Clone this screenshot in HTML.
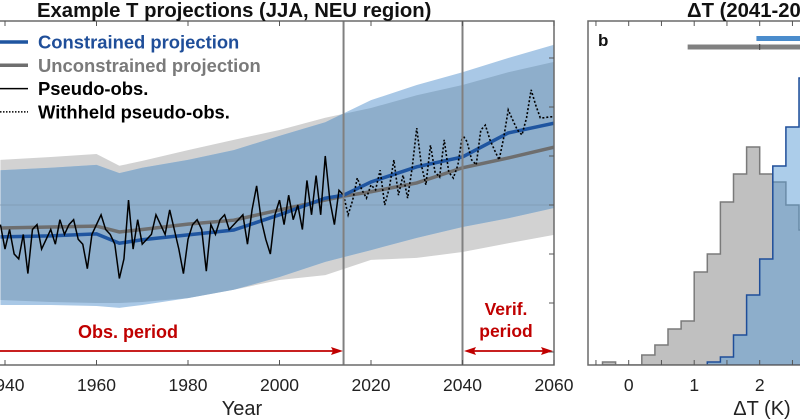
<!DOCTYPE html>
<html><head><meta charset="utf-8"><style>
body{margin:0;background:#fff;width:800px;height:419px;overflow:hidden}
svg{display:block;font-family:"Liberation Sans",Arial,sans-serif}
</style></head><body>
<svg id="chart" width="800" height="419" viewBox="0 0 800 419" xmlns="http://www.w3.org/2000/svg">
<defs><clipPath id="plotclip"><rect x="0" y="21" width="554" height="344"/></clipPath>
<clipPath id="histclip"><rect x="588" y="21" width="212" height="344"/></clipPath></defs>
<g id="panelA"></g>
<g id="panelB"></g>
</svg>
<script>
// ---- Panel A data ----
const bandYears = [1939,1950,1960,1965,1970,1980,1990,2000,2010,2020,2030,2040,2050,2060];
const uncUpper = [0.92,0.98,1.04,0.80,0.90,1.12,1.33,1.53,1.78,1.98,2.24,2.45,2.71,2.92];
const uncLower = [-1.94,-1.98,-2.00,-2.00,-1.98,-1.90,-1.73,-1.53,-1.43,-1.12,-1.08,-0.96,-0.78,-0.61];
const conUpper = [0.71,0.76,0.82,0.65,0.76,0.92,1.12,1.41,1.69,2.14,2.45,2.71,3.00,3.27];
const conLower = [-2.04,-2.04,-2.06,-2.10,-2.04,-1.90,-1.73,-1.47,-1.16,-0.92,-0.67,-0.45,-0.27,-0.06];
const meanYears = [1939,1950,1960,1965,1970,1980,1990,2000,2010,2014,2020,2030,2040,2050,2060];
const conMean = [-0.65,-0.63,-0.59,-0.78,-0.71,-0.61,-0.51,-0.20,0.14,0.20,0.47,0.78,0.98,1.47,1.67];
const uncMean = [-0.47,-0.45,-0.43,-0.55,-0.50,-0.39,-0.31,-0.10,0.10,0.18,0.27,0.45,0.76,0.96,1.18];
const obsStart = 1939;
const obsValues = [-0.4,-0.9,-0.5,-1.0,-1.1,-0.6,-1.4,-0.5,-0.4,-0.9,
 -0.7,-0.5,-0.8,-0.3,-0.6,-0.4,-0.3,-0.7,-0.8,-1.3,
 -0.6,-0.4,-0.2,-0.5,-0.6,-0.8,-1.5,-1.1,0.1,-0.9,
 -0.3,-0.8,-0.7,-0.6,-0.2,-0.4,-0.6,-0.1,-0.5,-0.9,
 -1.4,-0.7,-0.4,-0.3,-0.5,-1.35,-0.4,-0.6,-0.3,-0.2,
 -0.5,-0.4,-0.3,-0.2,-0.8,-0.1,0.39,-0.3,-0.7,-1.0,
 -0.2,0.1,-0.4,0.2,-0.3,0.0,-0.5,0.5,-0.2,0.6,
 -0.2,1.0,0.1,-0.4,0.3,0.2];
const heldStart = 2014;
const heldValues = [0.2,-0.2,0.1,0.55,0.31,0.14,0.41,0.31,0.71,0.0,
 0.35,0.92,0.2,0.61,0.14,0.76,1.57,0.82,0.41,1.22,
 0.67,0.57,1.33,0.67,0.55,0.82,1.43,1.29,0.92,0.82,
 1.53,1.63,1.33,1.12,0.92,1.37,1.94,1.73,1.53,1.43,
 1.78,2.35,2.04,1.78,1.78,1.80,1.80];
const xTicks = [1940,1960,1980,2000,2020,2040,2060];
const yTicks = [-3,-2,-1,0,1,2,3];
// ---- Panel B data ----
const binStart = -0.4, binWidth = 0.2;
const grayCounts = [0.3,0,0,1.0,2.0,3.6,4.4,9.3,11.1,16.3,19.1,21.8,19.1,18.3,16.0,13.5];
const blueStart = 1.2;
const blueCounts = [0.3,0.8,3.0,7.0,10.6,19.9,23.8,28.7];
const dtTicks = [-0.5,0,0.5,1,1.5,2,2.5];
const dtLabels = [0,1,2];
const blueRange = [1.95,3.4];
const grayRange = [0.9,3.8];
const grayMedian = 2.0;

const NS="http://www.w3.org/2000/svg";
function mk(parent,tag,attrs){const e=document.createElementNS(NS,tag);for(const k in attrs)e.setAttribute(k,attrs[k]);parent.appendChild(e);return e;}
const xA=y=>5+(y-1940)*4.575;
const yA=v=>205-v*49;
const A=document.getElementById('panelA');
const plot=mk(A,'g',{'clip-path':'url(#plotclip)'});
function bandPath(xs,up,lo){let d='';xs.forEach((x,i)=>{d+=(i?'L':'M')+xA(x)+','+yA(up[i]);});for(let i=xs.length-1;i>=0;i--)d+='L'+xA(xs[i])+','+yA(lo[i]);return d+'Z';}
const gb=mk(plot,'path',{d:bandPath(bandYears,uncUpper,uncLower),fill:'#d2d2d2'});


const cb=mk(plot,'path',{d:bandPath(bandYears,conUpper,conLower),fill:'#a9c8e6'});


const cp=mk(document.querySelector('defs'),'clipPath',{id:'gclip'});
mk(cp,'path',{d:bandPath(bandYears,uncUpper,uncLower)});
const ov=mk(plot,'path',{d:bandPath(bandYears,conUpper,conLower),fill:'#8eaecb','clip-path':'url(#gclip)'});


const zl=mk(plot,'line',{x1:0,x2:554,y1:yA(0),y2:yA(0),stroke:'#7d98b0','stroke-width':0.7});


function line(xs,vs){return xs.map((x,i)=>(i?'L':'M')+xA(x)+','+yA(vs[i])).join('');}
const um=mk(plot,'path',{d:line(meanYears,uncMean),fill:'none',stroke:'#6e6e6e','stroke-width':3.5});


const cm=mk(plot,'path',{d:line(meanYears,conMean),fill:'none',stroke:'#1f55a0','stroke-width':3.5});


const oy=obsValues.map((v,i)=>obsStart+i);
const ol=mk(plot,'path',{d:line(oy,obsValues),fill:'none',stroke:'#000','stroke-width':1.5});


const hy=heldValues.map((v,i)=>heldStart+i);
const hl=mk(plot,'path',{d:line(hy,heldValues),fill:'none',stroke:'#000','stroke-width':1.6,'stroke-dasharray':'2,2'});


[2014,2040].forEach(y=>{const v=mk(A,'line',{x1:xA(y),x2:xA(y),y1:21,y2:365,stroke:'#808080','stroke-width':2});

});
mk(A,'path',{d:'M0,21H554V365H0',fill:'none',stroke:'#6a6a6a','stroke-width':1.5});
function txt(p,x,y,s,o,name){const t=mk(p,'text',Object.assign({x:x,y:y},o));t.textContent=s;


return t;}
xTicks.forEach(t=>{const x=xA(t);
mk(A,'line',{x1:x,x2:x,y1:21,y2:26,stroke:'#555'});mk(A,'line',{x1:x,x2:x,y1:365,y2:360,stroke:'#555'});
txt(A,x,391,String(t),{'text-anchor':'middle','font-size':17.5,fill:'#222'},'x-tick-label');});
yTicks.forEach(t=>{mk(A,'line',{x1:549,x2:554,y1:yA(t),y2:yA(t),stroke:'#555'});});
txt(A,242,415,'Year',{'text-anchor':'middle','font-size':20,fill:'#222'},'x-axis-title');
txt(A,37,17,'Example T projections (JJA, NEU region)',{'font-size':20.3,'font-weight':'bold',fill:'#111'},'panel-a-title');
const leg=[['Constrained projection','#1f55a0',3.5,'','#1f4e99'],['Unconstrained projection','#6e6e6e',3.5,'','#7a7a7a'],['Pseudo-obs.','#000',1.5,'','#000'],['Withheld pseudo-obs.','#000',1.5,'1.5,1.5','#000']];
leg.forEach((l,i)=>{const y=42+i*23.3;const g=mk(A,'g',{});


mk(g,'line',{x1:0,x2:28,y1:y,y2:y,stroke:l[1],'stroke-width':l[2],'stroke-dasharray':l[3]||'none'});
const t=mk(g,'text',{x:38,y:y+6.5,'font-size':18.4,'font-weight':'bold',fill:l[4]});t.textContent=l[0];});
const red='#c00000';
const ar=mk(A,'g',{});


mk(ar,'line',{x1:0,x2:336,y1:351,y2:351,stroke:red,'stroke-width':1.8});
mk(ar,'path',{d:'M343,351L331,347L333,351L331,355Z',fill:red});
txt(A,128,338,'Obs. period',{'text-anchor':'middle','font-size':18,'font-weight':'bold',fill:red},'obs-period-label');
const vr=mk(A,'g',{});


mk(vr,'line',{x1:470,x2:546,y1:351,y2:351,stroke:red,'stroke-width':1.8});
mk(vr,'path',{d:'M464,351L476,347L474,351L476,355Z',fill:red});
mk(vr,'path',{d:'M553,351L541,347L543,351L541,355Z',fill:red});
txt(A,506,315,'Verif.',{'text-anchor':'middle','font-size':17.5,'font-weight':'bold',fill:red},'verif-label-line1');
txt(A,506,337,'period',{'text-anchor':'middle','font-size':17.5,'font-weight':'bold',fill:red},'verif-label-line2');
// ---- Panel B ----
const B=document.getElementById('panelB');
const xB=v=>628.7+v*65.5;
const yB=c=>365-c*10;
const hp=mk(B,'g',{'clip-path':'url(#histclip)'});
function stepPath(start,counts){let d='M'+xB(start)+','+yB(0);counts.forEach((c,i)=>{const x0=xB(start+i*binWidth),x1=xB(start+(i+1)*binWidth);d+='L'+x0+','+yB(c)+'L'+x1+','+yB(c);});d+='L'+xB(start+counts.length*binWidth)+','+yB(0)+'Z';return d;}
const gh=mk(hp,'path',{d:stepPath(binStart,grayCounts),fill:'#c0c0c0',stroke:'#7a7a7a','stroke-width':1.5});


const bh=mk(hp,'path',{d:stepPath(blueStart,blueCounts),fill:'rgba(90,155,213,0.5)',stroke:'#1f4e99','stroke-width':1.5});


const br=mk(hp,'line',{x1:xB(blueRange[0]),x2:xB(blueRange[1]),y1:38.5,y2:38.5,stroke:'#4a8ccc','stroke-width':5});


const gr=mk(hp,'line',{x1:xB(grayRange[0]),x2:xB(grayRange[1]),y1:47,y2:47,stroke:'#808080','stroke-width':5});


mk(hp,'line',{x1:xB(grayMedian),x2:xB(grayMedian),y1:44,y2:50,stroke:'#444','stroke-width':1});
mk(B,'path',{d:'M800,21H588V365H800',fill:'none',stroke:'#6a6a6a','stroke-width':1.5});
dtTicks.forEach(t=>{const x=xB(t);if(x<590)return;mk(B,'line',{x1:x,x2:x,y1:21,y2:26,stroke:'#555'});mk(B,'line',{x1:x,x2:x,y1:365,y2:360,stroke:'#555'});});
dtLabels.forEach(t=>{txt(B,xB(t),391,String(t),{'text-anchor':'middle','font-size':17.5,fill:'#222'},'dt-tick-label');});
txt(B,762,415,'ΔT (K)',{'text-anchor':'middle','font-size':20,fill:'#222'},'dt-axis-title');
txt(B,687,17,'ΔT (2041-2060)',{'font-size':20.3,'font-weight':'bold',fill:'#111'},'panel-b-title');
txt(B,598,46,'b',{'font-size':17,'font-weight':'bold',fill:'#111'},'panel-b-label');
</script>
</body></html>
